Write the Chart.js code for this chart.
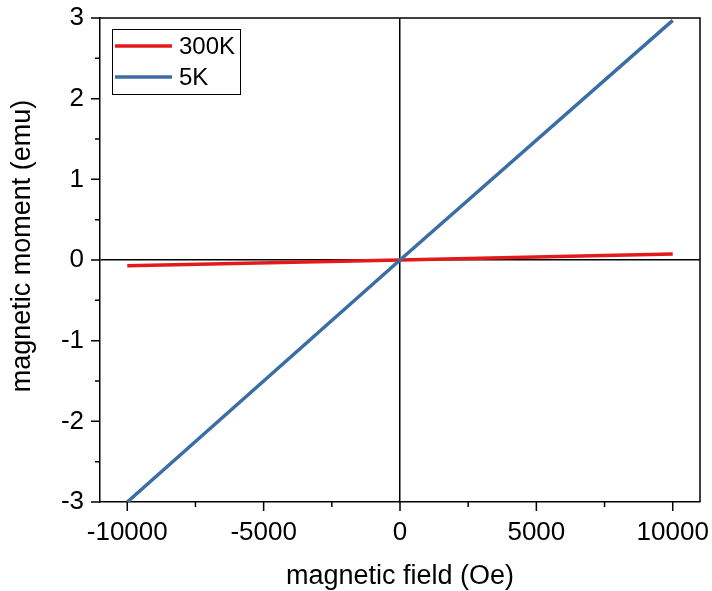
<!DOCTYPE html>
<html>
<head>
<meta charset="utf-8">
<script src="https://cdn.jsdelivr.net/npm/chart.js@4"></script>
<style>
    html, body { margin: 0; padding: 0; background: #fff; }
    #wrap { width: 712px; height: 591px; }
</style>
</head>
<body>
<div id="wrap"><canvas id="grafico"></canvas></div>
<script>
const fieldOe = [-10000, 0, 10000];
const moment300K = [-0.07, 0, 0.075];
const moment5K = [-3.0, 0, 2.97];
const seriesLabels = ['300K', '5K'];
const seriesColors = ['#e31a1c', '#3b6ea5'];
const xTicks = [-10000, -5000, 0, 5000, 10000];
const yTicks = [-3, -2, -1, 0, 1, 2, 3];
const yTitle = 'magnetic moment (emu)';

const FONT = 'Liberation Sans, Arial, sans-serif';

function toPoints(xs, ys) {
    return xs.map((x, i) => ({ x: x, y: ys[i] }));
}

// box, tick marks (major + minor), y title and the legend with a frame
const framePlugin = {
    id: 'frame',
    afterDraw(chart) {
        const { ctx, chartArea: a, scales } = chart;
        ctx.save();
        ctx.strokeStyle = '#000';
        ctx.lineWidth = 1.5;
        ctx.beginPath();
        ctx.moveTo(a.left, a.top);
        ctx.lineTo(a.right, a.top);
        ctx.lineTo(a.right, a.bottom);
        ctx.stroke();

        const xs = scales.x, ys = scales.y;
        ctx.beginPath();
        xTicks.forEach((v, i) => {
            const px = xs.getPixelForValue(v);
            ctx.moveTo(px, a.bottom); ctx.lineTo(px, a.bottom + 9);
            if (i < xTicks.length - 1) {
                const m = xs.getPixelForValue((v + xTicks[i + 1]) / 2);
                ctx.moveTo(m, a.bottom); ctx.lineTo(m, a.bottom + 5);
            }
        });
        yTicks.forEach((v, i) => {
            const py = ys.getPixelForValue(v);
            ctx.moveTo(a.left, py); ctx.lineTo(a.left - 9, py);
            if (i < yTicks.length - 1) {
                const m = ys.getPixelForValue((v + yTicks[i + 1]) / 2);
                ctx.moveTo(a.left, m); ctx.lineTo(a.left - 5, m);
            }
        });
        ctx.stroke();

        // y axis title (a bit above the centre, as in the original)
        ctx.save();
        ctx.translate(23, 246);
        ctx.rotate(-Math.PI / 2);
        ctx.font = '27px ' + FONT;
        ctx.fillStyle = '#000';
        ctx.textAlign = 'center';
        ctx.textBaseline = 'middle';
        ctx.fillText(yTitle, 0, 0);
        ctx.restore();

        // legend
        const lx = a.left + 12, ly = a.top + 11;
        ctx.fillStyle = '#fff';
        ctx.fillRect(lx, ly, 128, 65);
        ctx.lineWidth = 1;
        ctx.strokeStyle = '#000';
        ctx.strokeRect(lx + 0.5, ly + 0.5, 128, 65);
        ctx.font = '24px ' + FONT;
        ctx.textBaseline = 'middle';
        chart.data.datasets.forEach((ds, i) => {
            const cy = ly + 17 + i * 31;
            ctx.strokeStyle = ds.borderColor;
            ctx.lineWidth = 3.5;
            ctx.beginPath();
            ctx.moveTo(lx + 3, cy);
            ctx.lineTo(lx + 60, cy);
            ctx.stroke();
            ctx.fillStyle = '#000';
            ctx.fillText(ds.label, lx + 67, cy + 1);
        });
        ctx.restore();
    }
};

function renderGrafico() {
    const ctx = document.getElementById('grafico');
    new Chart(ctx, {
        type: 'scatter',
        data: {
            datasets: [
                {
                    label: seriesLabels[0],
                    data: toPoints(fieldOe, moment300K),
                    borderColor: seriesColors[0],
                    order: 1
                },
                {
                    label: seriesLabels[1],
                    data: toPoints(fieldOe, moment5K),
                    borderColor: seriesColors[1],
                    order: 0
                }
            ].map(ds => Object.assign(ds, {
                showLine: true,
                borderWidth: 3.5,
                pointRadius: 0,
                tension: 0
            }))
        },
        options: {
            responsive: true,
            maintainAspectRatio: false,
            animation: false,
            layout: { padding: { top: 18, right: 12, left: 0, bottom: 0 } },
            plugins: {
                legend: { display: false },
                tooltip: { enabled: false }
            },
            scales: {
                x: {
                    type: 'linear',
                    min: -11000,
                    max: 11000,
                    afterBuildTicks: s => { s.ticks = xTicks.map(v => ({ value: v })); },
                    afterFit: s => {
                        s.height = 89;
                        s.paddingLeft = 0;
                        s.paddingRight = 0;
                    },
                    grid: {
                        drawTicks: false,
                        lineWidth: 1.5,
                        color: c => (c.tick && c.tick.value === 0) ? '#000' : 'rgba(0,0,0,0)'
                    },
                    border: { display: true, color: '#000', width: 1.5 },
                    ticks: {
                        padding: 15,
                        color: '#000',
                        maxRotation: 0,
                        font: { family: FONT, size: 26 },
                        callback: v => String(v)
                    },
                    title: {
                        display: true,
                        text: 'magnetic field (Oe)',
                        color: '#000',
                        font: { family: FONT, size: 27 },
                        padding: { top: 0, bottom: -2 }
                    }
                },
                y: {
                    type: 'linear',
                    min: -3,
                    max: 3,
                    afterBuildTicks: s => { s.ticks = yTicks.map(v => ({ value: v })); },
                    afterFit: s => {
                        s.width = 100;
                        s.paddingTop = 0;
                        s.paddingBottom = 0;
                    },
                    grid: {
                        drawTicks: false,
                        lineWidth: 1.5,
                        color: c => (c.tick && c.tick.value === 0) ? '#000' : 'rgba(0,0,0,0)'
                    },
                    border: { display: true, color: '#000', width: 1.5 },
                    ticks: {
                        padding: 16,
                        color: '#000',
                        font: { family: FONT, size: 26 },
                        callback: v => String(v)
                    },
                    title: { display: false }
                }
            }
        },
        plugins: [framePlugin]
    });
}

document.addEventListener('DOMContentLoaded', renderGrafico);
</script>
</body>
</html>
